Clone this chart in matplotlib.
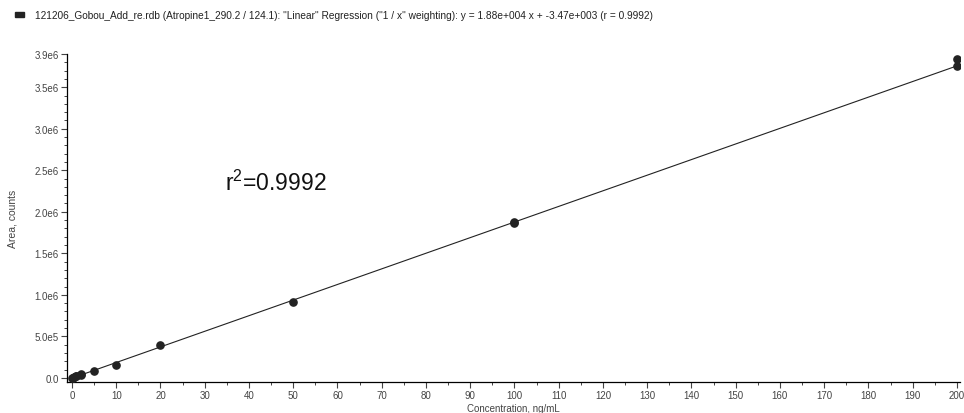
import matplotlib
matplotlib.use("Agg")
import matplotlib.pyplot as plt
from matplotlib.patches import Rectangle
from matplotlib.ticker import MultipleLocator
import numpy as np

plt.rcParams['font.family'] = ['Liberation Sans', 'DejaVu Sans']
plt.rcParams['mathtext.fontset'] = 'custom'
plt.rcParams['mathtext.rm'] = 'Liberation Sans'
plt.rcParams['mathtext.it'] = 'Liberation Sans'

# Data
conc = [0.1, 0.2, 0.5, 1, 1, 2, 2, 5, 10, 20, 50, 100, 100, 200, 200]
area = [2.0e3, 4.0e3, 9.0e3, 1.9e4, 2.1e4, 3.8e4, 4.1e4, 8.5e4, 1.6e5, 3.9e5, 9.15e5,
        1.86e6, 1.88e6, 3.76e6, 3.84e6]
slope = 1.88e4
intercept = -3.47e3
title = ('121206_Gobou_Add_re.rdb (Atropine1_290.2 / 124.1): "Linear" Regression '
         '("1 / x" weighting): y = 1.88e+004 x + -3.47e+003 (r = 0.9992)')
y_ticks = [0, 5e5, 1e6, 1.5e6, 2e6, 2.5e6, 3e6, 3.5e6, 3.9e6]
y_tick_labels = ['0.0', '5.0e5', '1.0e6', '1.5e6', '2.0e6', '2.5e6', '3.0e6', '3.5e6', '3.9e6']
x_ticks = list(range(0, 201, 10))

fig = plt.figure(figsize=(9.64, 4.14), dpi=100)
ax = fig.add_axes([67/964, 1 - 383/414, (960-67)/964, (383-55)/414])

xl = np.array([0, 200])
ax.plot(xl, slope * xl + intercept, color='#222222', lw=0.8, zorder=2)
ax.plot(conc, area, 'o', color='#222222', ms=5.2, zorder=3)

ax.set_xlim(-1.13, 200.7)
ax.set_ylim(-0.05e6, 3.9e6)
ax.set_xticks(x_ticks)
ax.xaxis.set_minor_locator(MultipleLocator(5))
ax.set_yticks(y_ticks)
ax.set_yticklabels(y_tick_labels)
ax.yaxis.set_minor_locator(MultipleLocator(1e5))

for s in ['top', 'right']:
    ax.spines[s].set_visible(False)
for s in ['left', 'bottom']:
    ax.spines[s].set_linewidth(0.9)
ax.tick_params(which='major', length=4, width=0.8, labelsize=7, colors='#444444', pad=2)
ax.tick_params(which='minor', length=2, width=0.7, colors='#444444')

ax.set_xlabel('Concentration, ng/mL', fontsize=7, color='#444444', labelpad=2)
ax.set_ylabel('Area, counts', fontsize=7.5, color='#444444', labelpad=12)

ax.text(34.5, 2.36e6, r'r$^{2}$=0.9992', fontsize=16.5, color='#111111',
        ha='left', va='center')

fig.add_artist(Rectangle((15/964, 1 - 18/414), 9/964, 5/414, transform=fig.transFigure,
                         color='#222222'))
fig.text(35/964, 1 - 16/414, title, fontsize=7.25, color='#222222', ha='left', va='center')

fig.savefig('out.png', dpi=100)
